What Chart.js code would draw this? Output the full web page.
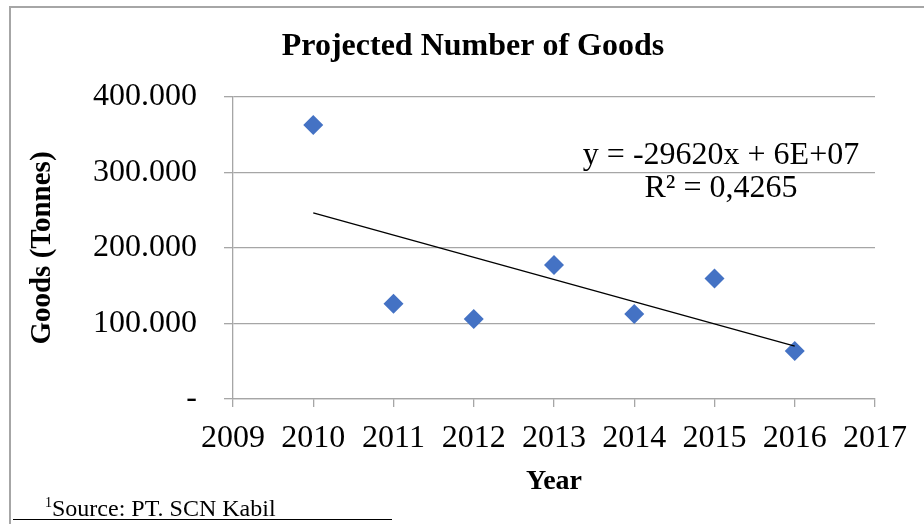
<!DOCTYPE html>
<html>
<head>
<meta charset="utf-8">
<script src="https://cdn.jsdelivr.net/npm/chart.js@4.4.1/dist/chart.umd.min.js"></script>
<style>
  html, body { margin: 0; padding: 0; width: 924px; height: 524px; overflow: hidden; background: #fff; }
  #frame { position: absolute; left: 9px; top: 6px; width: 1000px; height: 600px;
           border-left: 2px solid #a6a6a6; border-top: 2px solid #a6a6a6; }
  #c { position: absolute; left: 0; top: 0; }
  #note { position: absolute; left: 45px; top: 496px; font-family: "Liberation Serif", serif;
          font-size: 24px; line-height: 24px; color: #000; white-space: nowrap; }
  #note .sup { font-size: 14px; position: relative; top: -9px; }
  #rule { position: absolute; left: 13px; top: 519px; width: 379px; height: 0; border-top: 1.5px solid #000; }
</style>
</head>
<body>
<div id="frame"><canvas id="c" width="924" height="516"></canvas></div>
<div id="note"><span class="sup">1</span>Source: PT. SCN Kabil</div>
<div id="rule"></div>
<script>
// ---- data ----
const titleText = 'Projected Number of Goods';
const xTitle = 'Year';
const yTitle = 'Goods (Tonnes)';
const years = [2010, 2011, 2012, 2013, 2014, 2015, 2016];
const goods = [363000, 126000, 106000, 177500, 112500, 159500, 63500];
const xRange = [2009, 2017];
const yRange = [0, 400000];
const yStep = 100000;
const eqLines = ['y = -29620x + 6E+07', 'R\u00B2 = 0,4265'];

// ---- linear trend (least squares over the data) ----
const n = years.length;
const mx = years.reduce((a, b) => a + b, 0) / n;
const my = goods.reduce((a, b) => a + b, 0) / n;
let sxy = 0, sxx = 0;
for (let i = 0; i < n; i++) { sxy += (years[i] - mx) * (goods[i] - my); sxx += (years[i] - mx) ** 2; }
const slope = sxy / sxx;
const intercept = my - slope * mx;
const trendPts = [years[0], years[n - 1]].map(x => ({ x, y: slope * x + intercept }));

const gridColor = '#a6a6a6';
const serif = 'Liberation Serif';

function fmtY(v) {
  if (v === 0) return '-';
  return String(Math.round(v)).replace(/\B(?=(\d{3})+(?!\d))/g, '.');
}

const eqPlugin = {
  id: 'eqLabel',
  afterDatasetsDraw(chart) {
    const { ctx, chartArea } = chart;
    ctx.save();
    ctx.font = '32px "' + serif + '"';
    ctx.fillStyle = '#000';
    ctx.textAlign = 'center';
    ctx.textBaseline = 'alphabetic';
    const cx = chartArea.right - 154;
    ctx.fillText(eqLines[0], cx, chartArea.top + 67);
    ctx.fillText(eqLines[1], cx, chartArea.top + 100);
    ctx.restore();
  }
};

new Chart(document.getElementById('c'), {
  type: 'scatter',
  data: {
    datasets: [
      { type: 'line', label: 'Linear (Goods)', data: trendPts, borderColor: '#000', borderWidth: 1.3,
        pointRadius: 0, fill: false, order: 0 },
      { label: 'Goods', data: years.map((x, i) => ({ x, y: goods[i] })), pointStyle: 'rectRot',
        pointRadius: 10, backgroundColor: '#4472C4', borderColor: '#4472C4', borderWidth: 0, order: 1 }
    ]
  },
  options: {
    responsive: false,
    animation: false,
    devicePixelRatio: 1,
    layout: { padding: 0 },
    plugins: {
      legend: { display: false },
      tooltip: { enabled: false },
      title: { display: true, text: titleText, color: '#000',
        font: { family: serif, size: 32, weight: 'bold' }, padding: { top: 20, bottom: 30.6 } }
    },
    scales: {
      x: {
        type: 'linear', position: 'bottom', min: xRange[0], max: xRange[1],
        ticks: { stepSize: 1, autoSkip: false, maxRotation: 0, color: '#000', padding: 12,
          font: { family: serif, size: 32 }, callback: v => String(v) },
        grid: { drawOnChartArea: false, drawTicks: true, tickLength: 8, color: gridColor, lineWidth: 1.3 },
        border: { display: true, color: gridColor, width: 1.3 },
        title: { display: true, text: xTitle, color: '#000', font: { family: serif, size: 28, weight: 'bold' },
          padding: { top: 0, bottom: 25 } },
        afterFit(s) { s.height = 125; s.paddingLeft = 0; s.paddingRight = 60; }
      },
      y: {
        type: 'linear', position: 'left', min: yRange[0], max: yRange[1],
        ticks: { stepSize: yStep, color: '#000', padding: 27, font: { family: serif, size: 32 }, callback: fmtY },
        grid: { drawOnChartArea: true, drawTicks: true, tickLength: 9, color: gridColor, lineWidth: 1.3 },
        border: { display: true, color: gridColor, width: 1.3 },
        title: { display: true, text: yTitle, color: '#000', font: { family: serif, size: 29, weight: 'bold' },
          padding: { top: 14, bottom: 0 } },
        afterFit(s) { s.width = 222; s.paddingTop = 0; s.paddingBottom = 0; }
      }
    }
  },
  plugins: [eqPlugin]
});
</script>
</body>
</html>
